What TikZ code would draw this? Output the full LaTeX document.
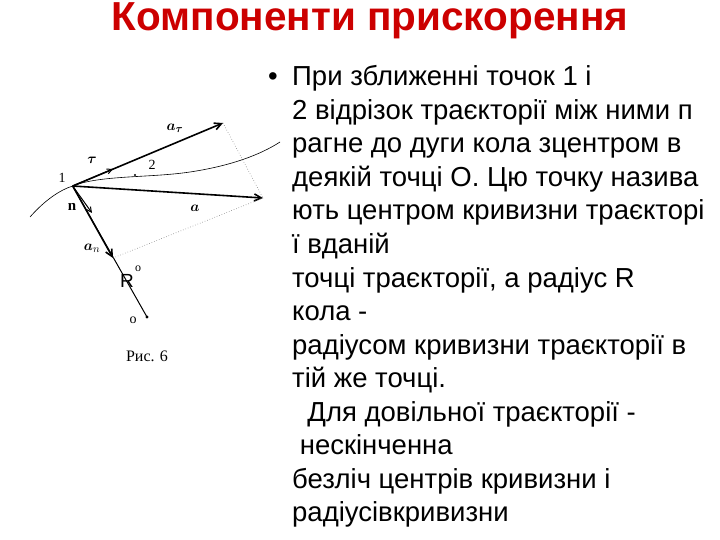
\documentclass[tikz,border=0pt]{standalone}
\usepackage{amsmath,bm}
\usepackage{fontspec}
\setmainfont{Liberation Sans}
\newfontfamily\serif{Liberation Serif}
\usetikzlibrary{arrows.meta}
\begin{document}
\begin{tikzpicture}[x=1pt,y=-1pt,
  vec/.style={line width=1.6pt,-{Straight Barb[length=7pt,width=7pt]}},
  dotl/.style={gray,dotted,line width=0.6pt},
  lbl/.style={font=\fontsize{15}{16}\selectfont,inner sep=0pt},
  txt/.style={anchor=base west,inner sep=0pt,font=\fontsize{27.5}{28}\selectfont}]
\useasboundingbox (0,0) rectangle (720,540);
\node (title) at (370,21) {\fontsize{40.5}{42}\selectfont\bfseries\color{red!80!black}Компоненти прискорення};
% diagram
\coordinate (p1) at (72.7,186);
\coordinate (at) at (223,123);
\coordinate (tt) at (113,169);
\coordinate (a) at (263,198);
\coordinate (an) at (113,258);
\coordinate (nn) at (92,213);
\coordinate (O) at (147,317);
\draw[line width=0.6pt] (30,217) .. controls (45,200) and (60,190) .. (p1) .. controls (100,175) and (150,178) .. (190,172) .. controls (230,166) and (260,155) .. (280,142);
\fill (135,175) circle (1.2pt);
\draw[line width=1pt] (p1) -- (O);
\fill (O) circle (1.6pt);
\draw[vec] (p1) -- (at);
\draw[vec] (p1) -- (a);
\draw[vec] (p1) -- (an);
\draw[line width=1pt,-{Straight Barb[length=5pt,width=5pt]}] (p1) -- (tt);
\draw[line width=1pt,-{Straight Barb[length=5pt,width=5pt]}] (p1) -- (nn);
\draw[dotl] (at) -- (a);
\draw[dotl] (an) -- (a);
\node[lbl] (lat) at (175,128) {$\bm{a}_{\bm\tau}$};
\node[lbl] (ltau) at (92,160) {$\bm\tau$};
\node[inner sep=0pt,font=\serif\fontsize{14}{14}\selectfont] (l2) at (152,165) {2};
\node[inner sep=0pt,font=\serif\fontsize{14}{14}\selectfont] (l1) at (62,178) {1};
\node[inner sep=0pt,font=\serif\bfseries\fontsize{15}{15}\selectfont] (ln) at (72,207) {n};
\node[lbl] (la) at (195,208) {$\bm{a}$};
\node[lbl] (lan) at (92,248) {$\bm{a}_n$};
\node[inner sep=0pt,font=\fontsize{19}{19}\selectfont] (lR) at (127,281) {R};
\node[inner sep=0pt,font=\serif\fontsize{12}{12}\selectfont] (lo) at (138,269) {o};
\node[inner sep=0pt,font=\serif\fontsize{14}{14}\selectfont] (lO) at (133,320) {o};
\node[inner sep=0pt,font=\serif\fontsize{16}{16}\selectfont] (cap) at (147,356) {Рис. 6};
% text
\node[inner sep=0pt,anchor=base,font=\fontsize{27.5}{28}\selectfont] (b) at (273,86) {•};
\node[txt] (t1) at (292,86) {При зближенні точок 1 і};
\node[txt] (t2) at (292,119.5) {2 відрізок траєкторії між ними п};
\node[txt] (t3) at (292,153) {рагне до дуги кола зцентром в};
\node[txt] (t4) at (292,186.5) {деякій точці О. Цю точку назива};
\node[txt] (t5) at (292,220) {ють центром кривизни траєкторі};
\node[txt] (t6) at (292,253.5) {ї вданій};
\node[txt] (t7) at (292,287) {точці траєкторії, а радіус R};
\node[txt] (t8) at (292,320.5) {кола -};
\node[txt] (t9) at (292,354) {радіусом кривизни траєкторії в};
\node[txt] (t10) at (292,387.5) {тій же точці.};
\node[txt] (t11) at (292,421) {\ \ Для довільної траєкторії -};
\node[txt] (t12) at (292,454.5) {\ нескінченна};
\node[txt] (t13) at (292,488) {безліч центрів кривизни і};
\node[txt] (t14) at (292,521.5) {радіусівкривизни};
\end{tikzpicture}
\end{document}
